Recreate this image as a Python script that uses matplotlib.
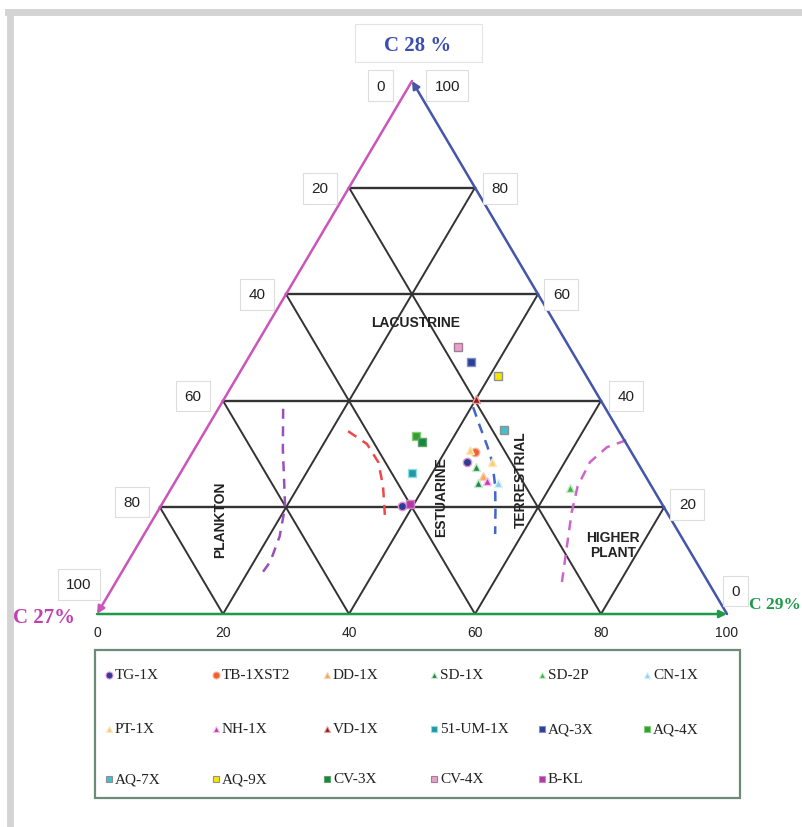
import numpy as np
import matplotlib.pyplot as plt
from matplotlib.lines import Line2D
from matplotlib.patches import Rectangle

# samples (C27 %, C28 %, C29 %) - C27 = 100 - C28 - C29
names = ["TG-1X", "TB-1XST2", "DD-1X", "SD-1X", "SD-2P", "CN-1X",
         "PT-1X", "NH-1X", "VD-1X", "51-UM-1X", "AQ-3X", "AQ-4X",
         "AQ-7X", "AQ-9X", "CV-3X", "CV-4X", "B-KL"]
c28 = [[28.5, 20.3], [30.4], [25.9], [27.6, 24.6], [23.6], [24.6],
       [30.8, 28.5], [25.0], [40.3], [26.5], [47.3], [33.4],
       [34.5], [44.7], [32.3], [50.1], [20.6]]
c29 = [[44.5, 38.3], [44.8], [48.3], [46.4, 48.2], [63.3], [51.4],
       [43.8, 48.5], [49.4], [40.0], [36.8], [35.7], [33.9],
       [47.4], [41.3], [35.4], [32.3], [39.4]]

# marker styles
markers = ["o", "o", "^", "^", "^", "^", "^", "^", "^", "s", "s", "s",
           "s", "s", "s", "s", "s"]
colors = ["#2a3f9a", "#f06030", "#f8a850", "#1f8a4a", "#3cb84a", "#8ccff0",
          "#f8d070", "#c43cb4", "#a01818", "#1f9aa5", "#2a3f9a", "#3a9a3a",
          "#40c0d0", "#f5e600", "#128a3a", "#e8a0d0", "#b03aa0"]
edges = ["#e890d0", "#f8b0a0", "#f8d0b0", "#c8e8c8", "#c8e8c8", "#d8f0f8",
         "#f8e8c0", "#f0c0e8", "#e0a0a0", "#8fdce6", "#8090c0", "#7fd06f",
         "#909090", "#909090", "#60a070", "#a08090", "#d080c8"]

# boundary curves (C28, C29)
plankton_c28 = [38.5, 31.0, 23.5, 20.1, 14.6, 9.8, 7.1]
plankton_c29 = [10.3, 14.0, 18.0, 19.8, 21.7, 22.6, 22.3]
lacus_c28 = [34.3, 31.9, 28.5, 24.0, 18.4]
lacus_c29 = [22.7, 26.9, 30.4, 33.4, 36.5]
terr_c28 = [38.8, 35.3, 31.5, 28.5, 24.0, 19.7, 15.0]
terr_c29 = [40.3, 43.1, 46.2, 48.5, 51.2, 53.4, 55.7]
plant_c28 = [32.6, 31.3, 28.5, 24.0, 19.1, 12.8, 6.0]
plant_c29 = [67.7, 65.3, 64.0, 64.3, 65.8, 68.2, 70.8]

ticks = [0, 20, 40, 60, 80, 100]


def to_xy(a28, a29):
    a28 = np.asarray(a28, dtype=float)
    a29 = np.asarray(a29, dtype=float)
    return a29 + a28 / 2, a28


fig = plt.figure(figsize=(8.02, 8.28), dpi=100)
ax = fig.add_axes([97 / 802, 213 / 828, 630 / 802, 533 / 828])
ax.set_xlim(0, 100)
ax.set_ylim(0, 100)
ax.axis("off")

# outer grey frame
fig.add_artist(Line2D([10 / 802, 10 / 802], [0, 815 / 828], transform=fig.transFigure,
                      color="#d4d4d4", lw=5))
fig.add_artist(Line2D([8 / 802, 1], [815 / 828, 815 / 828], transform=fig.transFigure,
                      color="#d4d4d4", lw=5))

# grid
for k in ticks[1:-1]:
    ax.plot([k / 2, 100 - k / 2], [k, k], color="#333333", lw=1.7)
    ax.plot([k, k + (100 - k) / 2], [0, 100 - k], color="#333333", lw=1.4)
    ax.plot([k, k / 2], [0, k], color="#333333", lw=1.4)

# triangle edges with arrows
arrow = dict(arrowstyle="-|>", lw=1.8, mutation_scale=11, shrinkA=0, shrinkB=0)
ax.annotate("", xy=(50, 100), xytext=(100, 0), arrowprops=dict(arrow, color="#4455aa"))
ax.annotate("", xy=(0, 0), xytext=(50, 100), arrowprops=dict(arrow, color="#cc55bb"))
ax.annotate("", xy=(100, 0), xytext=(0, 0), arrowprops=dict(arrow, color="#1f9a4a"))

# boundary curves
for a28, a29, col in [(plankton_c28, plankton_c29, "#9b4fb8"),
                      (lacus_c28, lacus_c29, "#f04848"),
                      (terr_c28, terr_c29, "#4466cc"),
                      (plant_c28, plant_c29, "#cc66cc")]:
    x, y = to_xy(a28, a29)
    ax.plot(x, y, color=col, lw=1.8, ls=(0, (4, 3)))

# samples
for i, name in enumerate(names):
    x, y = to_xy(c28[i], c29[i])
    ax.plot(x, y, ls="none", marker=markers[i], ms=6, mfc=colors[i], mec=edges[i],
            mew=1.0, clip_on=False, zorder=5)

# region labels
lab = dict(fontsize=10, fontweight="bold", family="Liberation Sans", color="#222222",
           ha="center", va="center")
ax.text(50.6, 54.8, "LACUSTRINE", **lab)
ax.text(19.5, 17.8, "PLANKTON", rotation=90, **lab)
ax.text(54.6, 22.1, "ESTUARINE", rotation=90, **lab)
ax.text(67.3, 25.3, "TERRESTRIAL", rotation=90, **lab)
ax.text(81.9, 13.1, "HIGHER\nPLANT", linespacing=1.1, **lab)

# scale labels in boxes
box = dict(boxstyle="square,pad=0.55", fc="white", ec="#dddddd", lw=0.8)
tl = dict(fontsize=11, family="Liberation Sans", color="#222222", ha="center",
          va="center", bbox=box)
ax.text(45.0, 99.1, "0", **tl)
ax.text(55.6, 99.1, "100", **tl)
for k, (lx, ly) in zip(ticks[1:], [(35.4, 79.9), (25.4, 60.0), (15.2, 40.9), (5.6, 21.0),
                                     (-2.9, 5.6)]):
    ax.text(lx, ly, str(k), **tl)
for k, (lx, ly) in zip(ticks[:-1][::-1], [(64.0, 79.9), (73.7, 60.0), (84.0, 40.9),
                                          (93.7, 20.6), (101.3, 4.3)]):
    ax.text(lx, ly, str(k), **tl)
for k in ticks:
    ax.text(k, -3.3, str(k), fontsize=10, family="Liberation Sans", color="#222222",
            ha="center", va="center")

# corner titles
fig.add_artist(Rectangle((355 / 802, 765 / 828), 127 / 802, 38 / 828, transform=fig.transFigure,
                         fc="white", ec="#e4e4e4", lw=0.8))
fig.text(418 / 802, 1 - 46 / 828, "C 28 %", fontsize=15, fontweight="bold",
         family="Liberation Serif", color="#3a4db0", ha="center", va="center")
fig.text(13 / 802, 1 - 618 / 828, "C 27%", fontsize=15, fontweight="bold",
         family="Liberation Serif", color="#c040b0", ha="left", va="center")
fig.text(749 / 802, 1 - 605 / 828, "C 29%", fontsize=12.5, fontweight="bold",
         family="Liberation Serif", color="#1f9a4a", ha="left", va="center")

# legend
fig.add_artist(Rectangle((95 / 802, 1 - 799 / 828), 645 / 802, 148 / 828,
                         transform=fig.transFigure, fc="white", ec="#6d8a78", lw=1.6))
col_x = [109, 216, 327, 434, 542, 647]
row_y = [676, 730, 780]
for i, name in enumerate(names):
    mx = col_x[i % 6] / 802
    my = 1 - row_y[i // 6] / 828
    fig.add_artist(Line2D([mx], [my], transform=fig.transFigure, ls="none",
                          marker=markers[i], ms=5, mfc=colors[i], mec=edges[i], mew=0.8))
    fig.text(mx + 6 / 802, my, name, fontsize=11, family="Liberation Serif",
             color="#222222", ha="left", va="center")

fig.savefig("out.png", dpi=100)
